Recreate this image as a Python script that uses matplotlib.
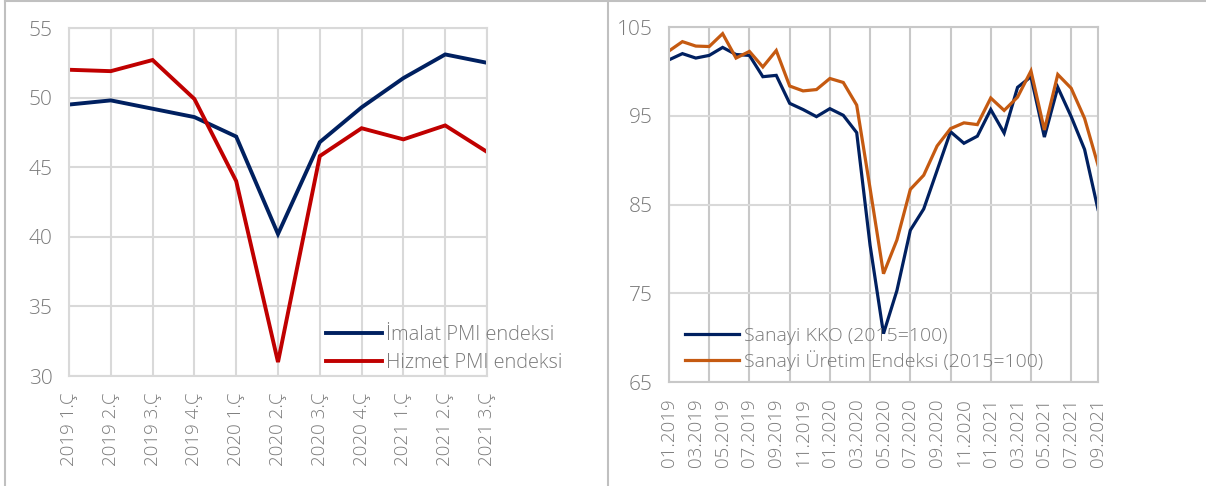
import matplotlib
matplotlib.use("Agg")
import matplotlib.pyplot as plt
from matplotlib.lines import Line2D

plt.rcParams['font.family'] = ['Open Sans', 'DejaVu Sans']

# left panel: quarterly PMI
quarters = ['2019 1.Ç', '2019 2.Ç', '2019 3.Ç', '2019 4.Ç', '2020 1.Ç', '2020 2.Ç',
            '2020 3.Ç', '2020 4.Ç', '2021 1.Ç', '2021 2.Ç', '2021 3.Ç']
imalat_pmi = [49.5, 49.8, 49.2, 48.6, 47.2, 40.2, 46.8, 49.3, 51.4, 53.1, 52.5]
hizmet_pmi = [52.0, 51.9, 52.7, 49.9, 44.0, 31.0, 45.8, 47.8, 47.0, 48.0, 46.1]

# right panel: monthly indices
months = ['01.2019', '02.2019', '03.2019', '04.2019', '05.2019', '06.2019', '07.2019',
          '08.2019', '09.2019', '10.2019', '11.2019', '12.2019', '01.2020', '02.2020',
          '03.2020', '04.2020', '05.2020', '06.2020', '07.2020', '08.2020', '09.2020',
          '10.2020', '11.2020', '12.2020', '01.2021', '02.2021', '03.2021', '04.2021',
          '05.2021', '06.2021', '07.2021', '08.2021', '09.2021']
sanayi_kko = [101.3, 102.0, 101.5, 101.8, 102.7, 101.9, 101.8, 99.4, 99.55, 96.4, 95.7,
              94.9, 95.8, 95.05, 93.1, 80.4, 70.45, 75.3, 82.1, 84.5, 88.85, 93.2, 91.9,
              92.7, 95.7, 93.05, 98.2, 99.4, 92.6, 98.2, 94.9, 91.2, 84.45]
sanayi_uretim = [102.3, 103.35, 102.85, 102.8, 104.25, 101.5, 102.25, 100.5, 102.35, 98.35,
                 97.8, 97.95, 99.2, 98.75, 96.2, 86.8, 77.2, 81.0, 86.7, 88.3, 91.6, 93.55,
                 94.2, 94.0, 97.0, 95.6, 97.1, 100.05, 93.4, 99.65, 98.1, 94.7, 89.45]

navy = '#002060'
red = '#C00000'
orange = '#C55A11'
txt = '#7a7a7a'
W, H = 1206, 486

fig = plt.figure(figsize=(W / 100, H / 100), dpi=100)

def style(ax, grid_col):
    ax.tick_params(length=0, labelcolor=txt)
    ax.tick_params(axis='x', labelsize=13.5, pad=12)
    ax.tick_params(axis='y', labelsize=15, pad=12)
    for s in ax.spines.values():
        s.set_color(grid_col)
        s.set_linewidth(1.5)
    ax.set_axisbelow(True)
    for lab in ax.get_xticklabels() + ax.get_yticklabels():
        lab.set_fontweight('light')

# ---- left
ax1 = fig.add_axes([69 / W, 1 - 376 / H, (487 - 69) / W, (376 - 28) / H])
x1 = range(len(quarters))
ax1.plot(x1, imalat_pmi, color=navy, lw=2.8, label='İmalat PMI endeksi', solid_joinstyle='miter')
ax1.plot(x1, hizmet_pmi, color=red, lw=2.8, label='Hizmet PMI endeksi', solid_joinstyle='miter')
ax1.set_xlim(0, len(quarters) - 1)
ax1.set_ylim(30, 55)
ax1.set_yticks(range(30, 56, 5))
ax1.set_xticks(list(x1))
ax1.set_xticklabels(quarters, rotation=90)
ax1.grid(True, color='#d9d9d9', lw=1.5)
style(ax1, '#d9d9d9')
ax1.legend(loc='upper left', bbox_to_anchor=(326 / W, 1 - 325 / H), bbox_transform=fig.transFigure,
           frameon=False, handlelength=2.8, handletextpad=0.22, labelspacing=0.42,
           borderpad=0, borderaxespad=0, labelcolor=txt, prop={'weight': 'light', 'size': 14.4})

# ---- right
ax2 = fig.add_axes([669 / W, 1 - 382 / H, (1098 - 669) / W, (382 - 27) / H])
x2 = range(len(months))
for xv in list(x2)[::3]:
    ax2.axvline(xv, color='#c8c8c8', lw=1.5, zorder=0.5)
ax2.plot(x2, sanayi_kko, color=navy, lw=2.3, label='Sanayi KKO (2015=100)', solid_joinstyle='miter')
ax2.plot(x2, sanayi_uretim, color=orange, lw=2.3, label='Sanayi Üretim Endeksi (2015=100)',
         solid_joinstyle='miter')
ax2.set_xlim(0, len(months) - 1)
ax2.set_ylim(65, 105)
ax2.set_yticks(range(65, 106, 10))
ax2.set_xticks(list(x2)[::2])
ax2.set_xticklabels(months[::2], rotation=90)
ax2.grid(True, axis='y', color='#d9d9d9', lw=1.5)
style(ax2, '#c8c8c8')
ax2.legend(loc='upper left', bbox_to_anchor=(685 / W, 1 - 327 / H), bbox_transform=fig.transFigure,
           frameon=False, handlelength=2.8, handletextpad=0.22, labelspacing=0.25,
           borderpad=0, borderaxespad=0, labelcolor=txt, prop={'weight': 'light', 'size': 14})

# panel borders
fig.add_artist(Line2D([5 / W, 1], [1 - 1.5 / H] * 2, color='#c0c0c0', lw=1.5))
fig.add_artist(Line2D([5 / W] * 2, [0, 1 - 1.5 / H], color='#c0c0c0', lw=1.5))
fig.add_artist(Line2D([608 / W] * 2, [0, 1 - 1.5 / H], color='#c0c0c0', lw=1.5))

fig.savefig('out.png', dpi=100)
